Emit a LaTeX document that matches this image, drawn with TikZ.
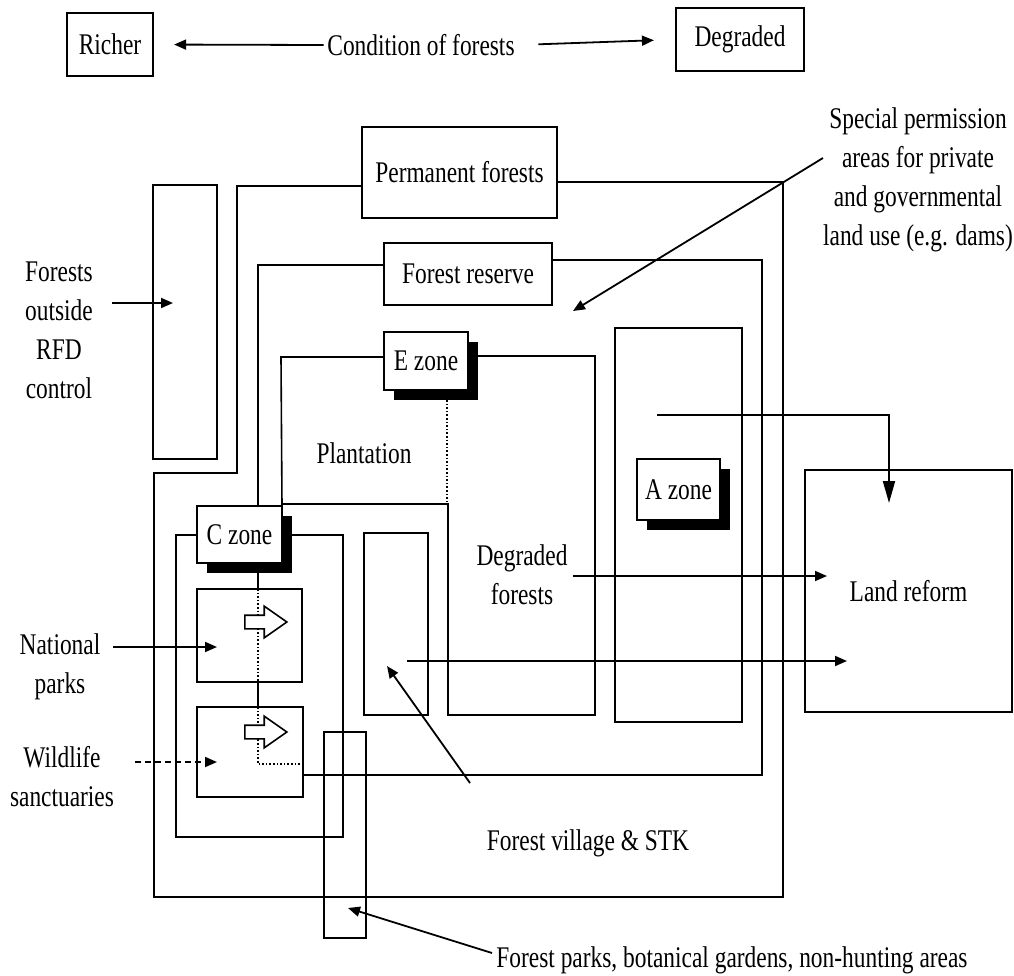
\documentclass[tikz,border=0pt]{standalone}
\usepackage{fontspec}
\setmainfont{Liberation Serif}[FakeStretch=0.78]
\usepackage{tikz}
\usetikzlibrary{arrows.meta,shapes.arrows,shadows}

\begin{document}
\begin{tikzpicture}[x=0.5pt,y=-0.5pt,>={Triangle[length=6pt,width=5pt]},
font=\fontsize{15}{19.5}\selectfont,line width=0.8pt,
box/.style={draw,fill=white,inner sep=0pt},
zone/.style={box,drop shadow={shadow xshift=5pt,shadow yshift=-5pt,fill=black,opacity=1}},
lbl/.style={align=center,inner sep=1pt},
hollow/.style={draw,fill=white,single arrow,inner xsep=0pt,inner ysep=3pt,minimum height=21pt,
single arrow head extend=4.5pt,single arrow tip angle=70},
link/.style={->,line width=0.9pt}]
\useasboundingbox (0,0) rectangle (1014,976);
\node[box,line width=1.1pt,minimum width=43pt,minimum height=31.5pt] (richer) at (110,44.5) {Richer};
\node[box,line width=1.1pt,minimum width=64pt,minimum height=31.5pt] (degraded) at (740,39.5) {Degraded};
\node[inner sep=1.5pt] (cond) at (421,45) {Condition of forests};
\draw[link,shorten >=10pt] (cond.west) -- (richer.east);
\draw[link,shorten <=10pt,shorten >=10.5pt] (cond.east) -- (degraded.west);
\draw (557,182) -- (783,182) -- (783,897) -- (154,897) -- (154,473) -- (237,473) -- (237,186) -- (362,186);
\draw (552,260) -- (762,260) -- (762,775) -- (303,775);
\draw (384,265) -- (258,265) -- (258,707);
\draw (282,506) -- (281,357) -- (384,357);
\draw (468,356) -- (595,356) -- (595,715) -- (448,715) -- (448,504) -- (282,504);
\draw (176,535) rectangle (343,837);
\node[box,minimum width=97.5pt,minimum height=45.5pt] (perm) at (459.5,172.5) {Permanent forests};
\node[box,minimum width=84pt,minimum height=31pt] (reserve) at (468,274) {Forest reserve};
\node[zone,minimum width=42pt,minimum height=29pt] (ezone) at (426,361) {E zone};
\node[box,minimum width=63.5pt,minimum height=197pt] (aarea) at (678.5,525) {};
\node[zone,minimum width=41.5pt,minimum height=30.5pt] (azone) at (678.5,489.5) {A zone};
\node[box,line width=1.1pt,minimum width=103.5pt,minimum height=121pt] (land) at (908.5,591) {Land reform};
\node[box,minimum width=32pt,minimum height=137pt] (outside) at (185,322) {};
\node[zone,minimum width=42.5pt,minimum height=28.5pt] (czone) at (239.5,534.5) {C zone};
\node[box,minimum width=52.5pt,minimum height=46.5pt] (natpark) at (249.5,635.5) {};
\node[box,minimum width=53pt,minimum height=45pt] (wildlife) at (250,752) {};
\node[box,minimum width=32pt,minimum height=91pt] (degbox) at (396,624) {};
\node[draw,inner sep=0pt,minimum width=21pt,minimum height=103pt] (fpark) at (345,835) {};
\draw[densely dotted] (447,400) -- (447,504);
\draw[densely dotted] (258,589) -- (258,682);
\draw[densely dotted] (258,707) -- (258,764) -- (303,764);
\node[hollow] (nparrow) at (261,622) {};
\node[hollow] (wsarrow) at (261,732) {};
\node[lbl] (outlbl) at (59,330) {Forests\\outside\\RFD\\control};
\node[lbl] (nplbl) at (60,667) {National\\parks};
\node[lbl] (wslbl) at (62,777) {Wildlife\\sanctuaries};
\node[lbl] (splbl) at (918,180) {Special permission\\areas for private\\and governmental\\land use (e.g. dams)};
\node[lbl] (plant) at (364,453) {Plantation};
\node[lbl] (dflbl) at (522,575) {Degraded\\forests};
\node[lbl] (fvlbl) at (588,843) {Forest village \& STK};
\node[lbl] (fplbl) at (732,960) {Forest parks, botanical gardens, non-hunting areas};
\coordinate (out-a) at (112,303);
\coordinate (out-b) at (173,303);
\coordinate (np-a) at (113,647);
\coordinate (np-b) at (217,647);
\coordinate (ws-a) at (135,762);
\coordinate (ws-b) at (217,762);
\coordinate (sp-a) at (823,158);
\coordinate (sp-b) at (573,311);
\coordinate (az-a) at (657,415);
\coordinate (az-b) at (889,503);
\coordinate (df-a) at (573,576);
\coordinate (df-b) at (827,576);
\coordinate (dg-a) at (407,661);
\coordinate (dg-b) at (847,661);
\coordinate (fv-a) at (470,783);
\coordinate (fv-b) at (387,666);
\coordinate (fp-a) at (492,953);
\coordinate (fp-b) at (348,908);
\draw[link] (out-a) -- (out-b);
\draw[link] (np-a) -- (np-b);
\draw[link,densely dashed] (ws-a) -- (ws-b);
\draw[link] (sp-a) -- (sp-b);
\draw[->,line width=0.9pt,>={Triangle[length=11pt,width=6pt]}] (az-a) -| (az-b);
\draw[link] (df-a) -- (df-b);
\draw[link] (dg-a) -- (dg-b);
\draw[link] (fv-a) -- (fv-b);
\draw[link] (fp-a) -- (fp-b);
\end{tikzpicture}
\end{document}
